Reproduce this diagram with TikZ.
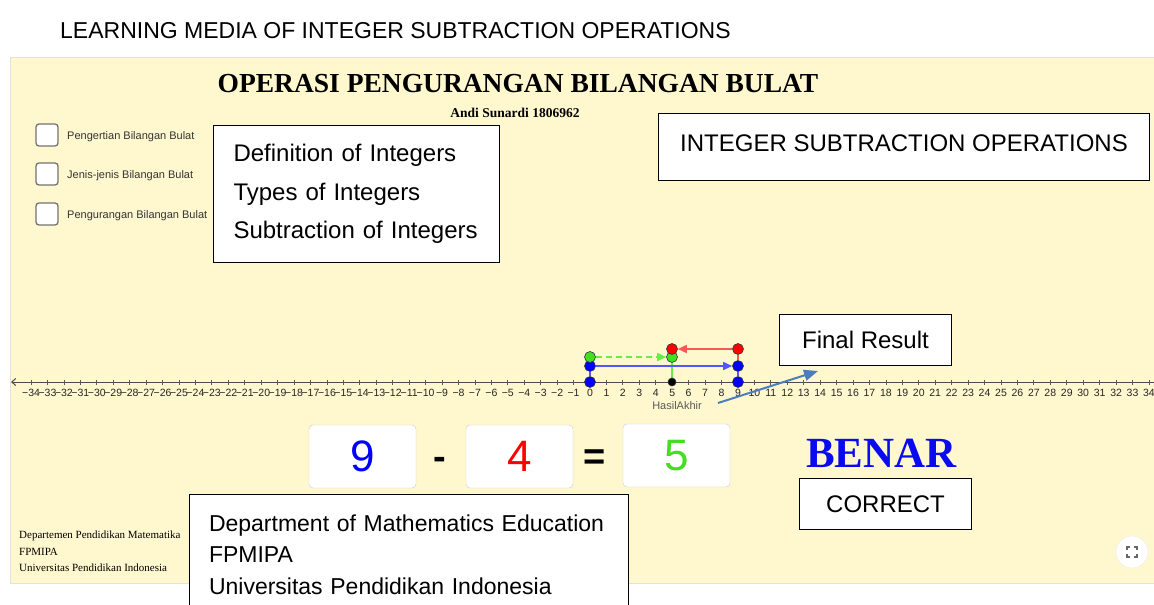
\documentclass[tikz,border=0pt]{standalone}
\usepackage{fontspec}
\setmainfont{Liberation Serif}
\setsansfont{Liberation Sans}
\usetikzlibrary{arrows.meta}

\pgfdeclarelayer{back}
\pgfdeclarelayer{lines}
\pgfsetlayers{back,lines,main}

\definecolor{panelfill}{HTML}{FFF8CF}
\definecolor{paneledge}{HTML}{E2E2DA}
\definecolor{ptblue}{HTML}{0000FF}
\definecolor{ptred}{HTML}{FF0000}
\definecolor{ptgreen}{HTML}{44DD22}
\definecolor{vecblue}{HTML}{5555FF}
\definecolor{vecred}{HTML}{FF5555}
\definecolor{vecgreen}{HTML}{66EE44}
\definecolor{pointerblue}{HTML}{4A7EC0}
\definecolor{benarblue}{HTML}{0A0AF0}

\begin{document}
\begin{tikzpicture}[x=1pt, y=-1pt,
    annot/.style={draw=black, line width=1pt, fill=white, inner sep=0pt,
                  font=\sffamily\fontsize{24}{29}\selectfont},
    numbox/.style={draw=black!20, fill=white, rounded corners=4pt,
                   minimum width=107pt, minimum height=63pt,
                   font=\sffamily\fontsize{44}{44}\selectfont},
    opsign/.style={font=\sffamily\bfseries\fontsize{38}{38}\selectfont, inner sep=0pt, anchor=base},
    chk/.style={draw=black!55, line width=1.3pt, fill=white, rounded corners=3pt,
                minimum size=22pt, inner sep=0pt},
    chklbl/.style={font=\sffamily\fontsize{11}{13}\selectfont, text=black!80,
                   anchor=base west, inner sep=0pt},
    tickmark/.style={black!65, line width=0.8pt},
    ticklbl/.style={font=\sffamily\fontsize{10.5}{10.5}\selectfont, text=black!85, inner sep=0pt},
    pt/.style={circle, draw=black!80, line width=0.6pt, minimum size=11pt, inner sep=0pt},
    vec/.style={line width=1.6pt, -{Triangle[length=9pt,width=8pt]}},
    stem/.style={line width=1.6pt},
]
\useasboundingbox (0,0) rectangle (1154,605);

% --- Page title ---
\node[font=\sffamily\fontsize{23}{23}\selectfont, anchor=base west, inner sep=0pt]
    (pagetitle) at (60,38) {LEARNING MEDIA OF INTEGER SUBTRACTION OPERATIONS};

% --- Applet panel ---
\begin{pgfonlayer}{back}
\fill[panelfill] (10,57) rectangle (1154,583);
\draw[paneledge, line width=1pt] (1154,57) -- (10,57) -- (10,583) -- (1154,583);
\end{pgfonlayer}

% --- Headings ---
\node[font=\bfseries\fontsize{27.5}{28}\selectfont, anchor=base, inner sep=0pt]
    (maintitle) at (518,92) {OPERASI PENGURANGAN BILANGAN BULAT};
\node[font=\bfseries\fontsize{13.5}{14}\selectfont, anchor=base, inner sep=0pt]
    (author) at (515,117) {Andi Sunardi 1806962};

% --- Check boxes ---
\foreach \y/\t [count=\k] in {135/Pengertian Bilangan Bulat,
                              174/Jenis-jenis Bilangan Bulat,
                              214/Pengurangan Bilangan Bulat} {
  \node[chk] (chk\k) at (47,\y) {};
  \node[chklbl] (chklbl\k) at (67,\y+4) {\t};
}

% --- Translation boxes ---
\node[annot, anchor=north west, minimum width=286pt, minimum height=137pt,
      align=left, text width=246pt, font=\sffamily\fontsize{24}{38.5}\selectfont]
    (defbox) at (213,125) {Definition of Integers\\Types of Integers\\Subtraction of Integers};
\node[annot, anchor=north west, minimum width=491pt, minimum height=67pt, text depth=8pt]
    (titlebox) at (658,113) {INTEGER SUBTRACTION OPERATIONS};
\node[annot, anchor=north west, minimum width=172pt, minimum height=51pt]
    (finalbox) at (779,314) {Final Result};
\node[annot, anchor=north west, minimum width=172pt, minimum height=51pt]
    (correctbox) at (799,478) {CORRECT};

% --- Number line ---
\coordinate (axL) at (11,382);
\coordinate (axR) at (1154,382);
\begin{pgfonlayer}{lines}
\draw[black!70, line width=1pt, {Straight Barb[length=4pt,width=7pt]}-] (axL) -- (axR);
\foreach \i in {-34,...,34} {
  \pgfmathtruncatemacro\absi{abs(\i)}
  \draw[tickmark] (590+16.44*\i,379.5) -- ++(0,5);
  \node[ticklbl] (tl\i) at (590+16.44*\i,392.5) {\ifnum\i<0 −\fi\absi};
}
\end{pgfonlayer}

% --- Points ---
\node[pt, fill=ptblue] (b0) at (590,382) {};
\node[pt, fill=black, minimum size=8pt] (k5) at (672,382) {};
\node[pt, fill=ptblue] (b9) at (738,382) {};
\node[pt, fill=ptblue] (s0) at (590,366) {};
\node[pt, fill=ptblue] (s9) at (738,366) {};
\node[pt, fill=ptgreen] (g0) at (590,357) {};
\node[pt, fill=ptgreen] (g5) at (672,357) {};
\node[pt, fill=ptred] (r9) at (738,349) {};
\node[pt, fill=ptred] (r5) at (672,349) {};
\node[ticklbl, font=\sffamily\fontsize{11}{11}\selectfont, text=black!65]
    (hasil) at (677,406) {HasilAkhir};

% --- Vectors ---
\begin{pgfonlayer}{lines}
\draw[stem, vecblue] (b0) -- (s0);
\draw[stem, vecblue] (s9) -- (b9);
\draw[stem, vecred] (r9) -- (s9);
\draw[stem, vecgreen] (g5) -- (k5);
\draw[vec, vecblue] (s0) -- (s9);
\draw[vec, vecgreen, dash pattern=on 6pt off 4pt] (g0) -- (g5);
\draw[vec, vecred] (r9) -- (r5);
\end{pgfonlayer}

% --- Pointer to final result ---
\coordinate (ptrtail) at (718,403);
\coordinate (ptrhead) at (818,371);
\draw[pointerblue, line width=2pt, -{Triangle[length=14pt,width=11pt]}] (ptrtail) -- (ptrhead);

% --- Equation ---
\node[numbox, text=ptblue] (numa) at (362.5,456.5) {9};
\node[opsign] (minus) at (440,469) {-};
\node[numbox, text=ptred] (numb) at (519.5,456.5) {4};
\node[opsign] (equals) at (595,469) {=};
\node[numbox, text=ptgreen] (numc) at (676.5,455.5) {5};

\node[font=\bfseries\fontsize{43}{43}\selectfont, text=benarblue, anchor=base, inner sep=0pt]
    (benar) at (881.5,467) {BENAR};

% --- Footer ---
\node[font=\fontsize{11}{16.5}\selectfont, align=left, anchor=north west, inner sep=0pt]
    (footer) at (19,531) {Departemen Pendidikan Matematika\\FPMIPA\\Universitas Pendidikan Indonesia};
\node[annot, anchor=north west, minimum width=439pt, minimum height=120pt,
      align=left, text width=400pt, font=\sffamily\fontsize{23}{31.5}\selectfont]
    (deptbox) at (189,494) {Department of Mathematics Education\\FPMIPA\\Universitas Pendidikan Indonesia};

% --- Full screen button ---
\node[circle, fill=white, draw=black!8, minimum size=32pt, inner sep=0pt] (fsbtn) at (1132,552) {};
\draw[black!60, line width=1.2pt]
  (1127,550) -- (1127,547) -- (1130,547)
  (1134,547) -- (1137,547) -- (1137,550)
  (1137,554) -- (1137,557) -- (1134,557)
  (1130,557) -- (1127,557) -- (1127,554);

\end{tikzpicture}
\end{document}
